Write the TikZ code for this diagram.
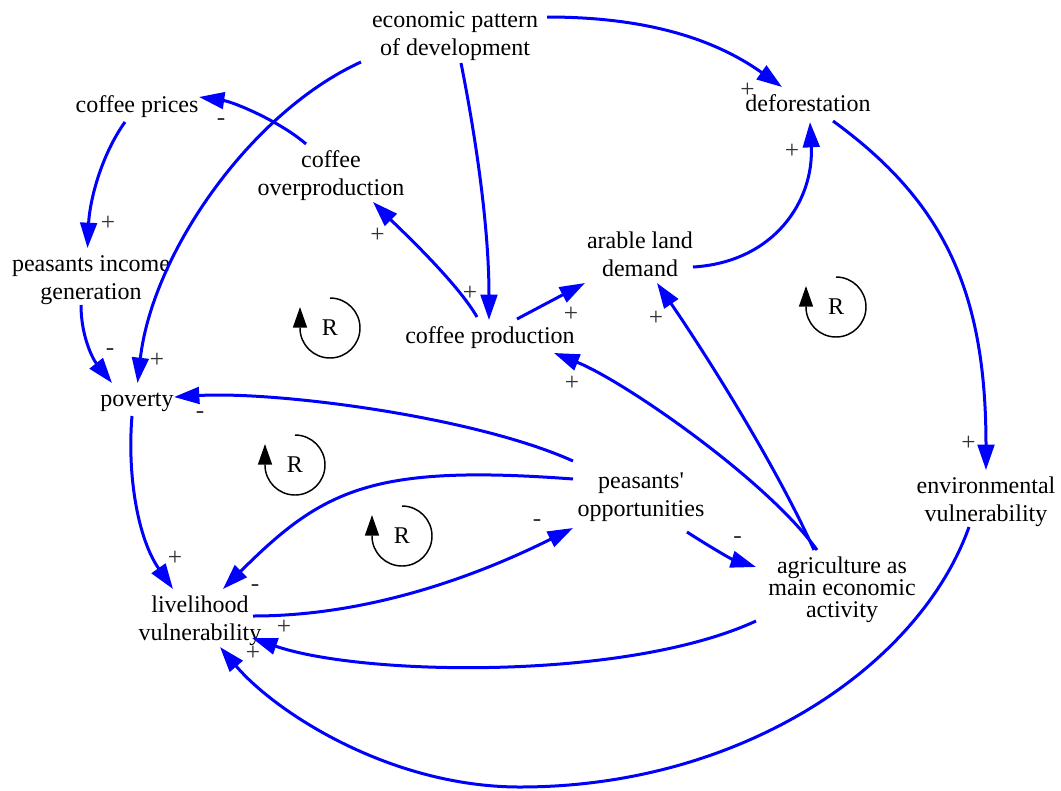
\documentclass[tikz,border=0pt]{standalone}
\usepackage{fontspec}
\setmainfont{Liberation Serif}
\usetikzlibrary{arrows.meta}
\begin{document}
\begin{tikzpicture}[x=0.75pt,y=-0.75pt,
  lbl/.style={align=center,inner sep=0pt,font=\fontsize{18}{21}\selectfont},
  lbltight/.style={align=center,inner sep=0pt,font=\fontsize{18}{16.5}\selectfont},
  pol/.style={inner sep=0pt,font=\fontsize{19}{19}\selectfont,text=black!80},
  cld/.style={draw=blue,line width=2.25pt,-{Triangle[length=19pt,width=12.5pt]}},
  rloop/.style={draw=black,line width=1.1pt,-{Triangle[length=15.5pt,width=10.5pt]}},
  rlbl/.style={inner sep=0pt,font=\fontsize{18}{18}\selectfont}]
\useasboundingbox (0,0) rectangle (1061,790);
% variables
\node[lbl] (econ) at (455,36.5) {economic pattern\\of development};
\node[lbl] (defor) at (808,103) {deforestation};
\node[lbl] (prices) at (137,107) {coffee prices};
\node[lbl] (overprod) at (331,176) {coffee\\overproduction};
\node[lbl] (arable) at (640,254) {arable land\\demand};
\node[lbl] (income) at (91,280) {peasants income\\generation};
\node[lbl] (prod) at (490,337.5) {coffee production};
\node[lbl] (poverty) at (137,402) {poverty};
\node[lbl] (opp) at (641,497) {peasants\textquotesingle\\opportunities};
\node[lbl] (env) at (986,501.5) {environmental\\vulnerability};
\node[lbl] (liveli) at (200,621) {livelihood\\vulnerability};
\node[lbltight] (agri) at (842,590) {agriculture as\\main economic\\activity};
% links
\draw[cld] ([shift={(92,-19.5)}]econ.center) .. controls +(90,0) and +(-73,-52) .. ([shift={(-26,-16)}]defor.center);
\draw[cld] ([shift={(-94,25.5)}]econ.center) .. controls +(-110,50) and +(15,-130) .. ([shift={(0.5,-19)}]poverty.center);
\draw[cld] ([shift={(6,26.5)}]econ.center) .. controls +(12,60) and +(0,-100) .. ([shift={(-1,-17.5)}]prod.center);
\draw[cld] ([shift={(-25,-32)}]overprod.center) .. controls +(-25,-22) and +(35,5) .. ([shift={(62,-10)}]prices.center);
\draw[cld] ([shift={(-12,15)}]prices.center) .. controls +(-25,35) and +(2,-45) .. ([shift={(-3.5,-32)}]income.center);
\draw[cld] ([shift={(-10,25)}]income.center) .. controls +(0,30) and +(-20,-25) .. ([shift={(-25,-19)}]poverty.center);
\draw[cld] ([shift={(-13,-20.5)}]prod.center) .. controls +(-20,-35) and +(25,25) .. ([shift={(42,26)}]overprod.center);
\draw[cld] ([shift={(27,-18.5)}]prod.center) -- ([shift={(-55,29)}]arable.center);
\draw[cld] ([shift={(53,13)}]arable.center) .. controls +(82,-5) and +(4,78) .. ([shift={(2,19)}]defor.center);
\draw[cld] ([shift={(25,18)}]defor.center) .. controls +(110,80) and +(0,-180) .. ([shift={(0,-31.5)}]env.center);
\draw[cld] ([shift={(-17,25.5)}]env.center) .. controls +(-50,140) and +(220,0) .. (520,787) .. controls +(-130,0) and +(55,65) .. ([shift={(20,26)}]liveli.center);
\draw[cld] ([shift={(-86,31)}]agri.center) .. controls +(-130,60) and +(110,38) .. ([shift={(52,17)}]liveli.center);
\draw[cld] ([shift={(-25,-40)}]agri.center) .. controls +(-50,-70) and +(70,28) .. ([shift={(64,15.5)}]prod.center);
\draw[cld] ([shift={(-28,-40)}]agri.center) .. controls +(-38,-84) and +(52,76) .. ([shift={(17,29)}]arable.center);
\draw[cld] ([shift={(-68,-36)}]opp.center) .. controls +(-100,-45) and +(100,-6) .. ([shift={(37,-5)}]poverty.center);
\draw[cld] ([shift={(-68,-18)}]opp.center) .. controls +(-200,-15) and +(100,-100) .. ([shift={(23,-32)}]liveli.center);
\draw[cld] ([shift={(53,-5)}]liveli.center) .. controls +(120,0) and +(-90,45) .. ([shift={(-68,31)}]opp.center);
\draw[cld] ([shift={(46,35)}]opp.center) .. controls +(20,13) and +(-25,-8) .. ([shift={(-86,-23)}]agri.center);
\draw[cld] ([shift={(-5,14)}]poverty.center) .. controls +(-5,60) and +(-35,-50) .. ([shift={(-27,-32)}]liveli.center);
% polarities
\node[pol] (p1) at (747.5,90) {+};
\node[pol] (p2) at (157,360) {+};
\node[pol] (p3) at (470,293) {+};
\node[pol] (p4) at (221,122) {-};
\node[pol] (p5) at (108,223) {+};
\node[pol] (p6) at (110,352) {-};
\node[pol] (p7) at (377.5,235) {+};
\node[pol] (p8) at (571,314) {+};
\node[pol] (p9) at (792,151) {+};
\node[pol] (p10) at (968.6,443) {+};
\node[pol] (p11) at (253,653) {+};
\node[pol] (p12) at (284,627) {+};
\node[pol] (p13) at (572,383) {+};
\node[pol] (p14) at (656,318) {+};
\node[pol] (p15) at (200,415) {-};
\node[pol] (p16) at (255,588) {-};
\node[pol] (p17) at (537,523) {-};
\node[pol] (p18) at (737.5,540) {-};
\node[pol] (p19) at (175,558) {+};
% loops
\node[rlbl] (r1) at (330,328) {R};
\node[rlbl] (r2) at (836,307) {R};
\node[rlbl] (r3) at (295,465) {R};
\node[rlbl] (r4) at (402,536) {R};
\foreach \r in {r1,r2,r3,r4}{
  \draw[rloop] ([shift={(0,-30)}]\r.center) arc[start angle=-90,end angle=180,radius=30] -- ++(0,-21);
}
\end{tikzpicture}
\end{document}
